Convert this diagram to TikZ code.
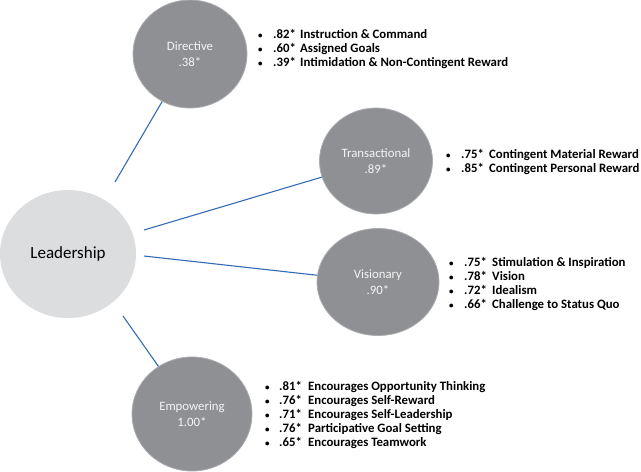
\documentclass[tikz,border=0pt]{standalone}
\usepackage{fontspec}
\setmainfont{Carlito}
\usetikzlibrary{shapes.geometric}
\definecolor{circdark}{RGB}{143,144,148}
\definecolor{circedge}{RGB}{170,171,175}
\definecolor{circlight}{RGB}{220,221,222}
\definecolor{connblue}{RGB}{52,107,180}
\definecolor{circtext}{RGB}{245,245,245}
\newcommand\lbul{\raisebox{0.1ex}{\scalebox{0.7}{•}}}
\newcommand\lrow[2]{\lbul&#1&#2\\}
\tikzset{
  factor/.style={ellipse, fill=circdark, draw=circedge, line width=0.8pt, inner sep=0pt,
    text=circtext, align=center, font=\fontsize{12.8}{16}\selectfont},
  leader/.style={ellipse, fill=circlight, draw=none, inner sep=0pt,
    font=\fontsize{17}{20}\selectfont},
  itemlist/.style={anchor=west, inner sep=0pt, font=\fontsize{12.8}{14}\selectfont\bfseries},
  conn/.style={draw=connblue, line width=1.1pt}
}
\begin{document}
\begin{tikzpicture}[x=1pt,y=-1pt]
\useasboundingbox (0,0) rectangle (641,472);
% circles
\node[leader, minimum width=136pt, minimum height=128pt] (lead) at (68,254) {Leadership};
\node[factor, minimum width=114pt, minimum height=108pt] (dir) at (190,54) {Directive\\.38*};
\node[factor, minimum width=113pt, minimum height=106pt] (tra) at (376,161) {Transactional\\.89*};
\node[factor, minimum width=122pt, minimum height=107pt] (vis) at (378,282) {Visionary\\.90*};
\node[factor, minimum width=120pt, minimum height=114pt] (emp) at (192,414) {Empowering\\1.00*};
% connectors
\coordinate (ds) at (115,182);
\coordinate (ts) at (144,230);
\coordinate (vs) at (144,256);
\coordinate (es) at (123,316);
\draw[conn] (ds) -- (dir);
\draw[conn] (ts) -- (tra);
\draw[conn] (vs) -- (vis);
\draw[conn] (es) -- (emp);
% lists
\node[itemlist] (dirlist) at (258,50) {\begin{tabular}{@{}p{15pt}@{}p{27pt}@{}l@{}}
\lrow{.82*}{Instruction \& Command}
\lrow{.60*}{Assigned Goals}
\lrow{.39*}{Intimidation \& Non-Contingent Reward}
\end{tabular}};
\node[itemlist] (tralist) at (446,163) {\begin{tabular}{@{}p{15pt}@{}p{28pt}@{}l@{}}
\lrow{.75*}{Contingent Material Reward}
\lrow{.85*}{Contingent Personal Reward}
\end{tabular}};
\node[itemlist] (vislist) at (449,285) {\begin{tabular}{@{}p{15pt}@{}p{28pt}@{}l@{}}
\lrow{.75*}{Stimulation \& Inspiration}
\lrow{.78*}{Vision}
\lrow{.72*}{Idealism}
\lrow{.66*}{Challenge to Status Quo}
\end{tabular}};
\node[itemlist] (emplist) at (265,416) {\begin{tabular}{@{}p{14pt}@{}p{29pt}@{}l@{}}
\lrow{.81*}{Encourages Opportunity Thinking}
\lrow{.76*}{Encourages Self-Reward}
\lrow{.71*}{Encourages Self-Leadership}
\lrow{.76*}{Participative Goal Setting}
\lrow{.65*}{Encourages Teamwork}
\end{tabular}};
\end{tikzpicture}
\end{document}
